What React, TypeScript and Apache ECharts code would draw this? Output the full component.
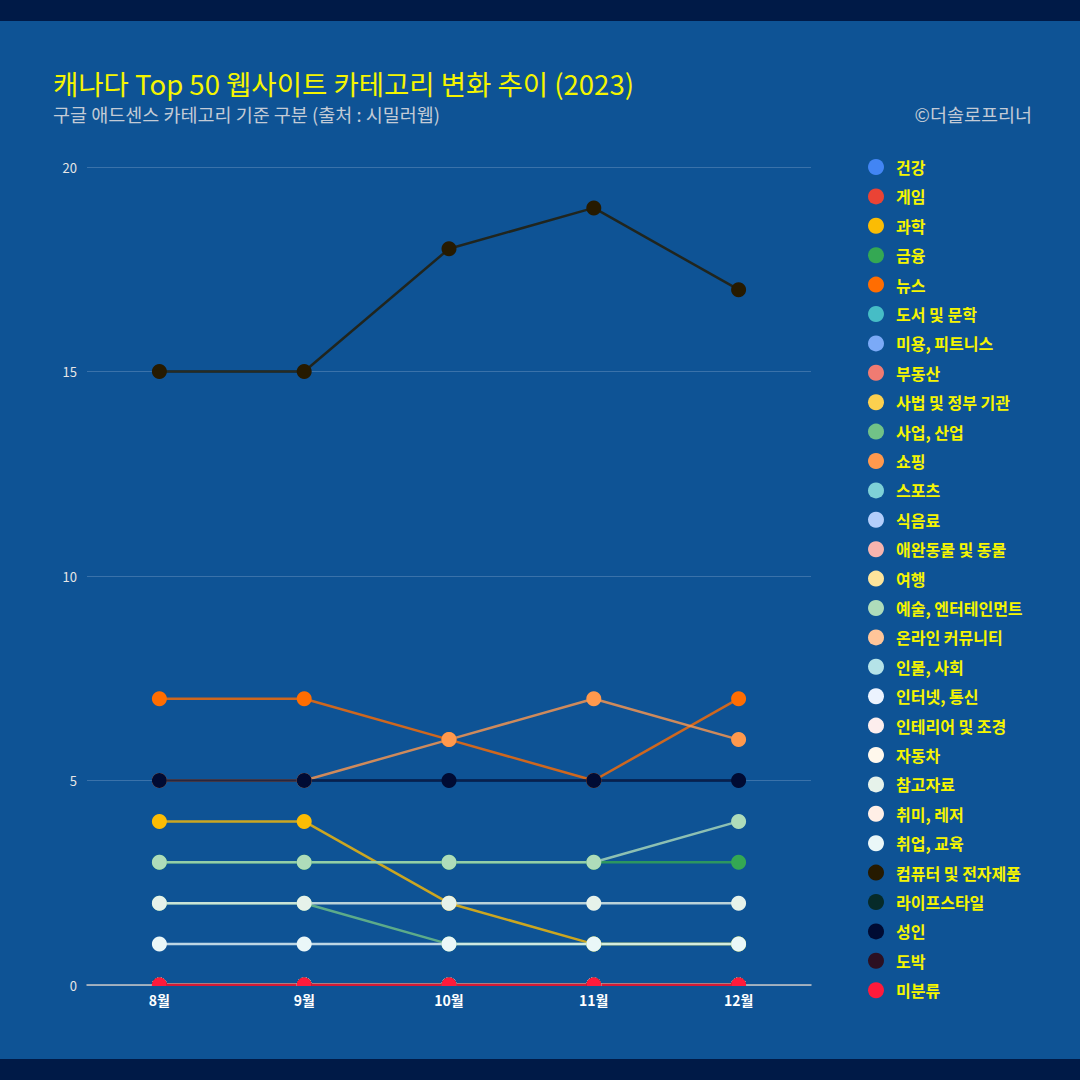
import React, { useEffect, useRef } from "react";
import * as echarts from "echarts";

const months = ["8월", "9월", "10월", "11월", "12월"];

const categories = [
  "건강", "게임", "과학", "금융", "뉴스", "도서 및 문학", "미용, 피트니스", "부동산",
  "사법 및 정부 기관", "사업, 산업", "쇼핑", "스포츠", "식음료", "애완동물 및 동물", "여행",
  "예술, 엔터테인먼트", "온라인 커뮤니티", "인물, 사회", "인터넷, 통신", "인테리어 및 조경",
  "자동차", "참고자료", "취미, 레저", "취업, 교육", "컴퓨터 및 전자제품", "라이프스타일",
  "성인", "도박", "미분류",
];

const colors = [
  "#4285f4", "#ea4335", "#fbbc04", "#34a853", "#ff6d01", "#46bdc6", "#7baaf7", "#f07b72",
  "#fcd04f", "#71c287", "#ff994d", "#7ed1d7", "#b3cefb", "#f7b4ae", "#fde49b",
  "#aedcba", "#ffc599", "#b5e3e8", "#ecf3fe", "#fdeeed", "#fff8ec", "#e6f2ea", "#ffefe6", "#eaf7f8",
  "#261a00", "#062b29", "#000b33", "#2c1022", "#ff1a3b",
];

const values: number[][] = [
  [0, 0, 0, 0, 0], // 건강
  [0, 0, 0, 0, 0], // 게임
  [4, 4, 2, 1, 1], // 과학
  [3, 3, 3, 3, 3], // 금융
  [7, 7, 6, 5, 7], // 뉴스
  [0, 0, 0, 0, 0], // 도서 및 문학
  [0, 0, 0, 0, 0], // 미용, 피트니스
  [0, 0, 0, 0, 0], // 부동산
  [0, 0, 0, 0, 0], // 사법 및 정부 기관
  [2, 2, 1, 1, 1], // 사업, 산업
  [5, 5, 6, 7, 6], // 쇼핑
  [0, 0, 0, 0, 0], // 스포츠
  [0, 0, 0, 0, 0], // 식음료
  [0, 0, 0, 0, 0], // 애완동물 및 동물
  [0, 0, 0, 0, 0], // 여행
  [3, 3, 3, 3, 4], // 예술, 엔터테인먼트
  [0, 0, 0, 0, 0], // 온라인 커뮤니티
  [0, 0, 0, 0, 0], // 인물, 사회
  [0, 0, 0, 0, 0], // 인터넷, 통신
  [0, 0, 0, 0, 0], // 인테리어 및 조경
  [0, 0, 0, 0, 0], // 자동차
  [2, 2, 2, 2, 2], // 참고자료
  [0, 0, 0, 0, 0], // 취미, 레저
  [1, 1, 1, 1, 1], // 취업, 교육
  [15, 15, 18, 19, 17], // 컴퓨터 및 전자제품
  [0, 0, 0, 0, 0], // 라이프스타일
  [5, 5, 5, 5, 5], // 성인
  [0, 0, 0, 0, 0], // 도박
  [0, 0, 0, 0, 0], // 미분류
];

const yTicks = { min: 0, max: 20, interval: 5 };

const titleText = "캐나다 Top 50 웹사이트 카테고리 변화 추이 (2023)";
const subtitleText = "구글 애드센스 카테고리 기준 구분 (출처 : 시밀러웹)";
const creditText = "©더솔로프리너";

const BG = "#0e5395";
const BAND = "#001a47";
const FONT = "'Noto Sans CJK KR', 'Noto Sans', sans-serif";

export default function App() {
  const ref = useRef<HTMLDivElement>(null);

  useEffect(() => {
    document.body.style.margin = "0";
    const chart = echarts.init(ref.current!, undefined, { renderer: "svg" });
    const series = categories.map((name, i) => ({
      name,
      type: "line",
      data: values[i],
      symbol: "circle",
      symbolSize: 15,
      color: colors[i],
      lineStyle: { width: 2.5, opacity: 0.8 },
      itemStyle: { borderWidth: 0 },
      emphasis: { disabled: true },
      z: 2,
    }));

    chart.setOption({
      animation: false,
      backgroundColor: BG,
      textStyle: { fontFamily: FONT },
      title: [
        {
          text: titleText,
          left: 53,
          top: 68,
          padding: 0,
          textStyle: { color: "#f5f500", fontSize: 27.5, lineHeight: 30, fontWeight: "normal", fontFamily: FONT },
        },
        {
          text: subtitleText,
          left: 53,
          top: 104,
          padding: 0,
          textStyle: { color: "#c3cbd6", fontSize: 18.5, lineHeight: 20, fontWeight: "normal", fontFamily: FONT },
        },
        {
          text: creditText,
          right: 48,
          top: 104,
          padding: 0,
          textStyle: { color: "#c3cbd6", fontSize: 18.5, lineHeight: 20, fontWeight: "normal", fontFamily: FONT },
        },
      ],
      legend: {
        orient: "vertical",
        left: 868,
        top: 159,
        padding: 0,
        icon: "circle",
        itemWidth: 16,
        itemHeight: 16,
        itemGap: 13.4,
        selectedMode: false,
        textStyle: {
          color: "#f5f500",
          fontSize: 16,
          fontWeight: "bold",
          fontFamily: FONT,
          padding: [0, 0, 0, 7],
        },
        data: categories,
      },
      grid: { left: 87, right: 269, top: 167, bottom: 95, containLabel: false },
      xAxis: {
        type: "category",
        data: months,
        boundaryGap: true,
        axisLine: { lineStyle: { color: "#c8c8c8", width: 1.5 } },
        axisTick: { show: false },
        axisLabel: { color: "#ffffff", fontSize: 14, fontWeight: "bold", margin: 8 },
        splitLine: { show: false },
      },
      yAxis: {
        type: "value",
        min: yTicks.min,
        max: yTicks.max,
        interval: yTicks.interval,
        axisLine: { show: false },
        axisTick: { show: false },
        axisLabel: { color: "#e6e6e6", fontSize: 13, margin: 10 },
        splitLine: { lineStyle: { color: "#3a72aa", width: 1 } },
      },
      graphic: [
        { type: "rect", shape: { x: 0, y: 0, width: 1080, height: 21 }, style: { fill: BAND }, z: 0 },
        { type: "rect", shape: { x: 0, y: 1059, width: 1080, height: 21 }, style: { fill: BAND }, z: 0 },
        { type: "rect", shape: { x: 80, y: 986, width: 740, height: 7 }, style: { fill: BG }, z: 100 },
      ],
      series,
    });
    return () => chart.dispose();
  }, []);

  return <div ref={ref} style={{ width: 1080, height: 1080 }} />;
}
